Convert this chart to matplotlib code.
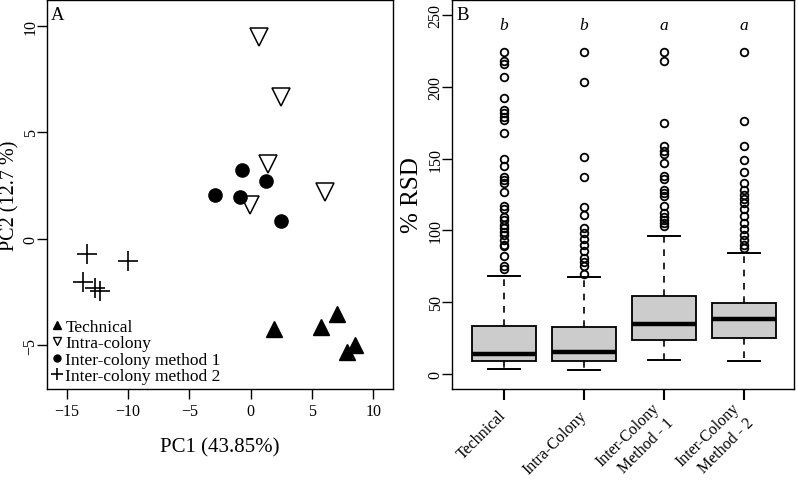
import numpy as np
import matplotlib.pyplot as plt
from matplotlib.lines import Line2D

plt.rcParams['font.family'] = ['Liberation Serif', 'DejaVu Serif']

# Panel A: PCA scores
tech_x = [1.9, 5.7, 7.07, 8.48, 7.88]
tech_y = [-4.23, -4.15, -3.52, -5.0, -5.29]
intra_x = [0.68, 2.5, 1.41, 6.03, -0.03]
intra_y = [9.47, 6.65, 3.52, 2.22, 1.61]
inter1_x = [-0.68, 1.22, -2.88, -0.84, 2.45]
inter1_y = [3.25, 2.69, 2.05, 1.96, 0.83]
inter2_x = [-13.3, -10.0, -13.67, -12.66, -12.3]
inter2_y = [-0.70, -1.06, -2.0, -2.32, -2.43]
legend_labels = ['Technical', 'Intra-colony', 'Inter-colony method 1', 'Inter-colony method 2']

# Panel B: %RSD box stats
groups = ['Technical', 'Intra-Colony', 'Inter-Colony\nMethod - 1', 'Inter-Colony\nMethod - 2']
q1 = [8.8, 8.8, 23.6, 25.2]
med = [13.7, 15.3, 35.0, 38.0]
q3 = [33.5, 32.9, 54.0, 49.8]
whislo = [3.7, 3.0, 9.7, 8.8]
whishi = [68.3, 67.6, 96.0, 84.5]
fliers = [
    [224, 218, 216, 207, 192, 184, 182, 179, 177, 168, 150, 145, 137, 135, 133,
     127, 117, 115, 109, 107, 104, 102, 99, 97, 93, 90, 89, 82, 75, 73],
    [224, 203, 151, 137, 116, 111, 102, 98, 94, 90, 86, 81, 78, 75, 70],
    [224, 218, 175, 159, 155, 153, 147, 138, 136, 128, 126, 124, 117, 112, 109,
     107, 105, 103],
    [224, 176, 159, 149, 141, 133, 128, 125, 122, 119, 115, 110, 105, 101, 97,
     93, 90, 88],
]
letters = ['b', 'b', 'a', 'a']

fig = plt.figure(figsize=(7.98, 4.81), dpi=100)
axA = fig.add_axes([0.0589, 0.1892, 0.4336, 0.8087])
axB = fig.add_axes([0.5664, 0.1892, 0.4286, 0.8087])

# ---- A ----
axA.plot(tech_x, tech_y, '^', color='black', markersize=12, linestyle='none')
axA.plot(intra_x, intra_y, 'v', mfc='white', mec='black', mew=1.1, markersize=12.5, linestyle='none')
axA.plot(inter1_x, inter1_y, 'o', color='black', markersize=9.5, linestyle='none')
axA.plot(inter2_x, inter2_y, '+', color='black', mew=1.2, markersize=15, linestyle='none')
axA.set_xlim(-16.6, 11.6)
axA.set_ylim(-7.04, 11.2)
axA.set_xticks([-15, -10, -5, 0, 5, 10])
axA.set_yticks([-5, 0, 5, 10])
axA.set_xticklabels(['\u221215', '\u221210', '\u22125', '0', '5', '10'])
axA.set_yticklabels(['\u22125', '0', '5', '10'], rotation=90, va='center')
axA.set_xlabel('PC1 (43.85%)', fontsize=15, labelpad=13)
axA.set_ylabel('PC2 (12.7 %)', fontsize=14.5, labelpad=2)
axA.text(0.012, 0.985, 'A', transform=axA.transAxes, fontsize=13.5, va='top', ha='left')

handles = [
    Line2D([], [], marker='^', color='black', linestyle='none', markersize=6),
    Line2D([], [], marker='v', mfc='white', mec='black', linestyle='none', markersize=6),
    Line2D([], [], marker='o', color='black', linestyle='none', markersize=5),
    Line2D([], [], marker='+', color='black', linestyle='none', markersize=8, mew=1.2),
]
axA.legend(handles, legend_labels, loc='lower left', frameon=False, fontsize=12.5,
           handlelength=0.6, handletextpad=0.15, labelspacing=0.0,
           borderaxespad=0.1, borderpad=0.2)

# ---- B ----
stats = []
for i in range(len(groups)):
    stats.append({'q1': q1[i], 'med': med[i], 'q3': q3[i],
                  'whislo': whislo[i], 'whishi': whishi[i], 'fliers': fliers[i]})
axB.bxp(stats, positions=[1, 2, 3, 4], widths=0.8, patch_artist=True,
        boxprops=dict(facecolor='#cccccc', edgecolor='black', linewidth=1.3),
        medianprops=dict(color='black', linewidth=3.2, solid_capstyle='butt'),
        whiskerprops=dict(color='black', linestyle=(0, (4, 4)), linewidth=1.2),
        capprops=dict(color='black', linewidth=1.4),
        capwidths=0.4,
        flierprops=dict(marker='o', mfc='none', mec='black', mew=1.3, markersize=5.5))
axB.set_xlim(0.35, 4.62)
axB.set_ylim(-10.4, 260.4)
axB.set_xticks([1, 2, 3, 4])
axB.set_xticklabels(groups, rotation=45, ha='right', va='center', rotation_mode='anchor',
                    fontsize=13, linespacing=1.35)
axB.set_yticks([0, 50, 100, 150, 200, 250])
axB.set_yticklabels(['0', '50', '100', '150', '200', '250'], rotation=90, va='center')
axB.set_ylabel('% RSD', fontsize=18, labelpad=3)
axB.text(0.012, 0.985, 'B', transform=axB.transAxes, fontsize=13.5, va='top', ha='left')
for i, l in enumerate(letters):
    axB.text(i + 1, 243, l, ha='center', va='center', fontsize=12.5, style='italic')

for ax in (axA, axB):
    ax.tick_params(direction='out', length=7, width=1, labelsize=11.5, pad=3)
    ax.tick_params(axis='y', pad=-1)
    for s in ax.spines.values():
        s.set_linewidth(1.0)
axB.tick_params(axis='x', length=8, width=1.5, pad=9)

fig.savefig('out.png', dpi=100)
